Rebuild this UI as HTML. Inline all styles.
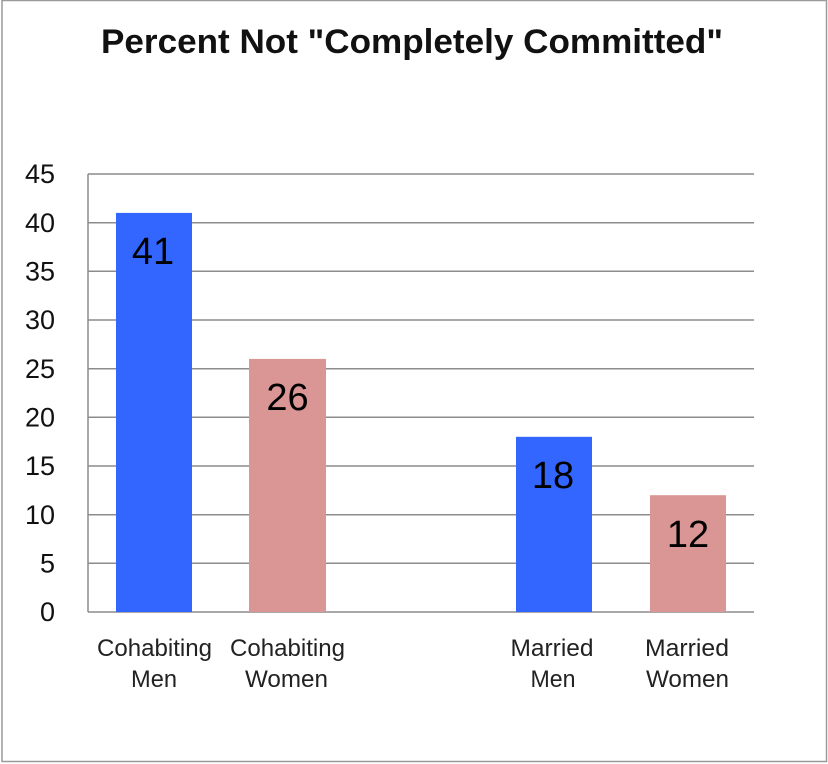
<!DOCTYPE html>
<html><head><meta charset="utf-8"><style>
html,body{margin:0;padding:0;background:#fff;}
svg{display:block;}
text{font-family:"Liberation Sans",sans-serif;}
</style></head><body>
<svg width="828" height="764" viewBox="0 0 828 764" xmlns="http://www.w3.org/2000/svg">
<rect x="0" y="0" width="828" height="764" fill="#fff"/>
<rect x="2" y="0.5" width="824.5" height="761" fill="none" stroke="#9a9a9a" stroke-width="1.5"/>
<text x="412" y="53" font-size="34" font-weight="bold" text-anchor="middle" textLength="622" lengthAdjust="spacingAndGlyphs" fill="#111">Percent Not "Completely Committed"</text>
<g stroke="#8c8c8c" stroke-width="1.5">
<line x1="88" y1="174" x2="754" y2="174"/>
<line x1="88" y1="222.7" x2="754" y2="222.7"/>
<line x1="88" y1="271.3" x2="754" y2="271.3"/>
<line x1="88" y1="320" x2="754" y2="320"/>
<line x1="88" y1="368.7" x2="754" y2="368.7"/>
<line x1="88" y1="417.3" x2="754" y2="417.3"/>
<line x1="88" y1="466" x2="754" y2="466"/>
<line x1="88" y1="514.7" x2="754" y2="514.7"/>
<line x1="88" y1="563.3" x2="754" y2="563.3"/>
<line x1="88" y1="612" x2="754" y2="612"/>
<line x1="88" y1="174" x2="88" y2="612"/>
</g>
<g font-size="27" text-anchor="end" fill="#111">
<text x="55" y="183">45</text>
<text x="55" y="232">40</text>
<text x="55" y="280.5">35</text>
<text x="55" y="329">30</text>
<text x="55" y="378">25</text>
<text x="55" y="426.5">20</text>
<text x="55" y="475">15</text>
<text x="55" y="524">10</text>
<text x="55" y="572.5">5</text>
<text x="55" y="621">0</text>
</g>
<rect x="116" y="212.9" width="76" height="399.1" fill="#3366FF"/>
<rect x="249" y="358.9" width="77" height="253.1" fill="#D99694"/>
<rect x="516" y="436.8" width="76" height="175.2" fill="#3366FF"/>
<rect x="650" y="495.2" width="76" height="116.8" fill="#D99694"/>
<g font-size="38" text-anchor="middle" fill="#000">
<text x="153" y="264">41</text>
<text x="287.5" y="410">26</text>
<text x="553" y="488">18</text>
<text x="688" y="547">12</text>
</g>
<g font-size="24" text-anchor="middle" fill="#222">
<text x="154.5" y="656" textLength="115" lengthAdjust="spacingAndGlyphs">Cohabiting</text>
<text x="154" y="687" textLength="46" lengthAdjust="spacingAndGlyphs">Men</text>
<text x="287.5" y="656" textLength="115" lengthAdjust="spacingAndGlyphs">Cohabiting</text>
<text x="286.5" y="687" textLength="83" lengthAdjust="spacingAndGlyphs">Women</text>
<text x="552" y="656" textLength="83" lengthAdjust="spacingAndGlyphs">Married</text>
<text x="553" y="687" textLength="45" lengthAdjust="spacingAndGlyphs">Men</text>
<text x="687" y="656" textLength="84" lengthAdjust="spacingAndGlyphs">Married</text>
<text x="687.5" y="687" textLength="83" lengthAdjust="spacingAndGlyphs">Women</text>
</g>
</svg>
</body></html>
